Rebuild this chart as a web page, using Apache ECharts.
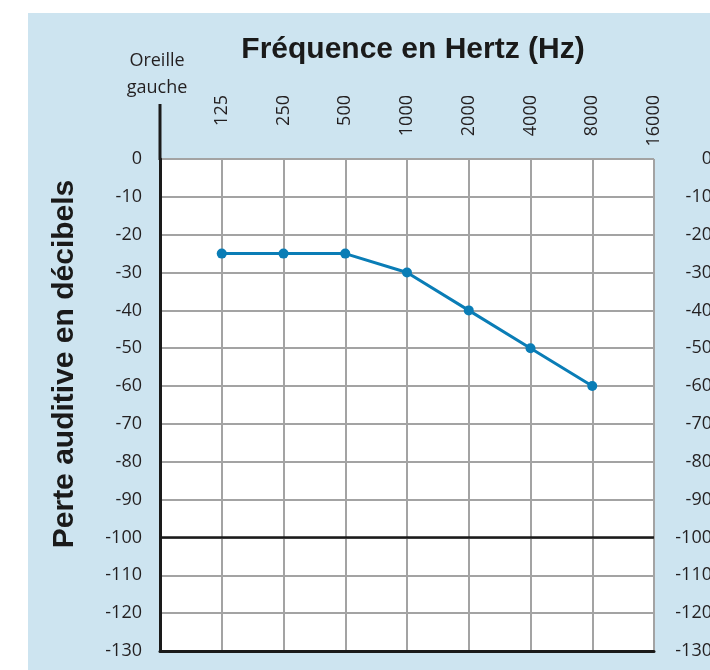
<!DOCTYPE html>
<html>
<head>
<meta charset="utf-8">
<script src="https://cdn.jsdelivr.net/npm/echarts@6/dist/echarts.min.js"></script>
<style>
  html, body { margin: 0; padding: 0; background: #fff; }
</style>
</head>
<body>
<div id="chart" style="width: 710px; height: 670px"></div>
<script>
// octave positions on the top axis (0 = 62.5 Hz, left edge)
const freqLabels = ['', '125', '250', '500', '1000', '2000', '4000', '8000', '16000']
const freqIndex = [1, 2, 3, 4, 5, 6, 7]
const lossValues = [-25, -25, -25, -30, -40, -50, -60]
const dbMin = -130
const dbMax = 0
const dbStep = 10
const thresholdLine = -100

const chart = echarts.init(document.getElementById('chart'))

const labelFont = {
  fontFamily: 'Open Sans',
  fontSize: 18,
  color: '#231f20'
}

const option = {
  backgroundColor: '#fff',
  animation: false,
  graphic: [
    {
      type: 'rect',
      z: -100,
      silent: true,
      shape: { x: 28, y: 13, width: 682, height: 657 },
      style: { fill: '#cde4f0' }
    },
    {
      // axis line runs up past the grid to the corner label
      type: 'line',
      z: 10,
      shape: { x1: 160, y1: 104, x2: 160, y2: 160 },
      style: { stroke: '#1a1a1a', lineWidth: 3 }
    },
    {
      type: 'text',
      x: 413,
      y: 50,
      style: {
        text: 'Fréquence en Hertz (Hz)',
        font: 'bold 30px "Liberation Sans", Arial, sans-serif',
        fill: '#1a1a1a',
        textAlign: 'center',
        textVerticalAlign: 'middle'
      }
    },
    {
      type: 'text',
      x: 65,
      y: 364,
      rotation: Math.PI / 2,
      style: {
        text: 'Perte auditive en décibels',
        font: 'bold 30px "Liberation Sans", Arial, sans-serif',
        fill: '#1a1a1a',
        textAlign: 'center',
        textVerticalAlign: 'middle'
      }
    },
    {
      type: 'text',
      x: 157,
      y: 74,
      style: {
        text: 'Oreille\ngauche',
        font: '18px "Open Sans", sans-serif',
        lineHeight: 27,
        fill: '#231f20',
        textAlign: 'center',
        textVerticalAlign: 'middle'
      }
    }
  ],
  grid: {
    left: 160,
    right: 56,
    top: 159,
    bottom: 19,
    outerBoundsMode: 'none',
    containLabel: false,
    show: true,
    backgroundColor: '#fff',
    borderWidth: 0
  },
  xAxis: [
    {
      type: 'value',
      position: 'top',
      min: 0,
      max: 8,
      interval: 1,
      axisLine: { show: false },
      axisTick: { show: false },
      splitLine: { lineStyle: { color: '#a3a3a3', width: 2 } },
      axisLabel: {
        ...labelFont,
        rotate: 90,
        align: 'right',
        verticalAlign: 'middle',
        margin: 64,
        showMinLabel: true,
        showMaxLabel: true,
        formatter: v => freqLabels[v] || ''
      }
    },
    {
      type: 'value',
      position: 'bottom',
      min: 0,
      max: 8,
      interval: 1,
      axisLine: { show: true, onZero: false, lineStyle: { color: '#1a1a1a', width: 3 } },
      axisTick: { show: false },
      axisLabel: { show: false },
      splitLine: { show: false }
    }
  ],
  yAxis: [
    {
      type: 'value',
      position: 'left',
      min: dbMin,
      max: dbMax,
      interval: dbStep,
      axisLine: { show: true, onZero: false, lineStyle: { color: '#1a1a1a', width: 3 } },
      axisTick: { show: false },
      splitLine: { lineStyle: { color: '#a3a3a3', width: 2 } },
      axisLabel: { ...labelFont, margin: 18 }
    },
    {
      type: 'value',
      position: 'right',
      min: dbMin,
      max: dbMax,
      interval: dbStep,
      axisLine: { show: false },
      axisTick: { show: false },
      splitLine: { show: false },
      axisLabel: { ...labelFont, align: 'right', margin: 58 }
    }
  ],
  series: [
    {
      type: 'line',
      data: freqIndex.map((x, i) => [x, lossValues[i]]),
      symbol: 'circle',
      symbolSize: 10,
      lineStyle: { color: '#0a7db6', width: 3 },
      itemStyle: { color: '#0a7db6' },
      z: 5,
      markLine: {
        silent: true,
        symbol: 'none',
        label: { show: false },
        lineStyle: { color: '#1a1a1a', width: 2.5, type: 'solid' },
        data: [{ yAxis: thresholdLine }]
      }
    }
  ]
}

chart.setOption(option)
</script>
</body>
</html>
